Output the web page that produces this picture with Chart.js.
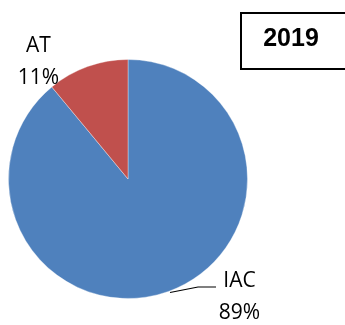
<!DOCTYPE html>
<html>
<head>
<meta charset="utf-8">
<script src="https://cdn.jsdelivr.net/npm/chart.js@4.4.1/dist/chart.umd.min.js"></script>
<style>
html,body{margin:0;padding:0;background:#fff;}
#wrap{position:relative;width:345px;height:325px;}
</style>
</head>
<body>
<div id="wrap"><canvas id="c" width="345" height="325"></canvas></div>
<script>
const categories = ['IAC', 'AT'];
const values = [89, 11];
const colors = ['#4F81BD', '#C0504D'];
const yearTitle = '2019';

const labelPlugin = {
  id: 'labels',
  afterDraw(chart) {
    const ctx = chart.ctx;
    const meta = chart.getDatasetMeta(0);
    const total = values.reduce((a, b) => a + b, 0);
    const arc0 = meta.data[0];
    const cx = arc0.x, cy = arc0.y, r = arc0.outerRadius;
    ctx.save();
    ctx.fillStyle = '#000';
    ctx.textAlign = 'center';
    ctx.textBaseline = 'alphabetic';
    ctx.font = '21px "Open Sans", sans-serif';
    // label positions (relative to centre, in radius units)
    const pos = [
      {dx: 112 / 120, dy: 108 / 120, leader: true},
      {dx: -90 / 120, dy: -128 / 120, leader: false}
    ];
    categories.forEach((cat, i) => {
      const p = pos[i];
      const x = cx + p.dx * r;
      const y = cy + p.dy * r;
      const pct = Math.round(values[i] / total * 100) + '%';
      ctx.fillText(cat, x, y);
      ctx.fillText(pct, x, y + 32);
      if (p.leader) {
        ctx.beginPath();
        ctx.strokeStyle = '#000';
        ctx.lineWidth = 1.2;
        ctx.moveTo(cx + 42, cy + 113.5);
        ctx.lineTo(cx + 70, cy + 108);
        ctx.lineTo(cx + 88, cy + 108);
        ctx.stroke();
      }
    });
    // year box
    ctx.strokeStyle = '#000';
    ctx.lineWidth = 2;
    ctx.strokeRect(241, 13, 120, 56);
    ctx.font = 'bold 25px "Liberation Sans", Arial, sans-serif';
    ctx.textBaseline = 'middle';
    ctx.fillText(yearTitle, 291, 39);
    ctx.restore();
  }
};

new Chart(document.getElementById('c'), {
  type: 'pie',
  data: {
    labels: categories,
    datasets: [{
      data: values,
      backgroundColor: colors,
      borderColor: 'rgba(255,255,255,0.35)',
      borderWidth: 1
    }]
  },
  options: {
    responsive: false,
    animation: false,
    devicePixelRatio: 1,
    layout: {padding: {left: 8, top: 59, right: 97, bottom: 26}},
    plugins: {legend: {display: false}, tooltip: {enabled: false}, title: {display: false}}
  },
  plugins: [labelPlugin]
});
</script>
</body>
</html>
